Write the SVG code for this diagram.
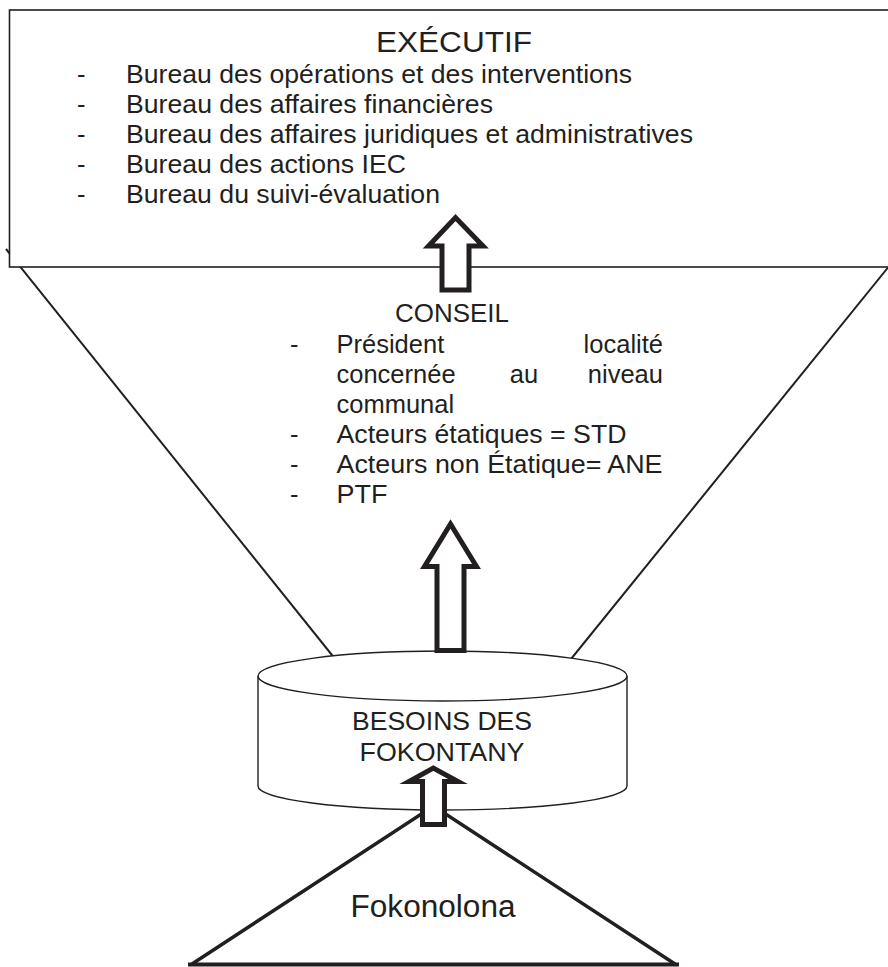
<svg xmlns="http://www.w3.org/2000/svg" width="888" height="967" viewBox="0 0 888 967">
<style>
text{font-family:"Liberation Sans",Arial,sans-serif;fill:#231f20}
.t{font-size:25.5px}
.shape{fill:#fff;stroke:#231f20}
.line{fill:none;stroke:#231f20;stroke-width:2}
.arrow{fill:#fff;stroke:#231f20;stroke-width:5;stroke-linejoin:miter;stroke-miterlimit:10}
</style>
<rect width="888" height="967" fill="#fff"/>
<g id="conseil">
<path class="line" d="M6,249 L352,680"/>
<path class="line" d="M890,265 L554,680"/>
<text class="t" x="452" y="322" text-anchor="middle" textLength="114" lengthAdjust="spacingAndGlyphs">CONSEIL</text>
<text class="t" x="290" y="353">-</text>
<text class="t" x="336.5" y="353">Président</text>
<text class="t" x="663" y="353" text-anchor="end">localité</text>
<text class="t" x="336.5" y="383">concernée</text>
<text class="t" x="524" y="383" text-anchor="middle">au</text>
<text class="t" x="663" y="383" text-anchor="end">niveau</text>
<text class="t" x="336.5" y="413">communal</text>
<text class="t" x="290" y="443">-</text>
<text class="t" x="336.5" y="443" textLength="290" lengthAdjust="spacingAndGlyphs">Acteurs étatiques = STD</text>
<text class="t" x="290" y="473">-</text>
<text class="t" x="336.5" y="473" textLength="326" lengthAdjust="spacingAndGlyphs">Acteurs non Étatique= ANE</text>
<text class="t" x="290" y="503">-</text>
<text class="t" x="336.5" y="503" textLength="51" lengthAdjust="spacingAndGlyphs">PTF</text>
</g>
<g id="executif">
<rect class="shape" x="9.5" y="10" width="885" height="257" stroke-width="1.6"/>
<text x="454" y="52" font-size="30" text-anchor="middle" textLength="156" lengthAdjust="spacingAndGlyphs">EXÉCUTIF</text>
<text class="t" x="77" y="83">-</text>
<text class="t" x="126" y="83" textLength="506" lengthAdjust="spacingAndGlyphs">Bureau des opérations et des interventions</text>
<text class="t" x="77" y="113">-</text>
<text class="t" x="126" y="113" textLength="367" lengthAdjust="spacingAndGlyphs">Bureau des affaires financières</text>
<text class="t" x="77" y="143">-</text>
<text class="t" x="126" y="143" textLength="567" lengthAdjust="spacingAndGlyphs">Bureau des affaires juridiques et administratives</text>
<text class="t" x="77" y="173">-</text>
<text class="t" x="126" y="173" textLength="280" lengthAdjust="spacingAndGlyphs">Bureau des actions IEC</text>
<text class="t" x="77" y="203">-</text>
<text class="t" x="126" y="203" textLength="314" lengthAdjust="spacingAndGlyphs">Bureau du suivi-évaluation</text>
</g>
<g id="fokonolona">
<path d="M192,964 L433.5,806 L675,964" fill="#fff" stroke="#231f20" stroke-width="3.5" stroke-linejoin="miter"/>
<path d="M188,964.5 L679,964.5" stroke="#231f20" stroke-width="4"/>
<text x="433" y="917" font-size="31" text-anchor="middle" textLength="165" lengthAdjust="spacingAndGlyphs">Fokonolona</text>
</g>
<g id="besoins">
<path class="shape" stroke-width="1.4" d="M258,676 L258,786 A184.5,24 0 0 0 627,786 L627,676 A184.5,25 0 0 0 258,676 Z"/>
<path class="shape" stroke-width="1.4" fill="none" d="M258,676 A184.5,25 0 0 0 627,676"/>
<text class="t" x="442" y="730" text-anchor="middle" textLength="180" lengthAdjust="spacingAndGlyphs">BESOINS DES</text>
<text class="t" x="442" y="761" text-anchor="middle" textLength="165" lengthAdjust="spacingAndGlyphs">FOKONTANY</text>
</g>
<g id="connectors">
<path class="arrow" d="M442,290 L442,246 L428.5,246 L455.5,217.5 L483,246 L469,246 L469,290 Z"/>
<path class="arrow" d="M437,650.5 L437,566.5 L424.5,566.5 L450.5,524 L476.5,566.5 L464,566.5 L464,650.5 Z"/>
<path class="arrow" stroke-width="4.5" d="M422.5,824.5 L422.5,781.5 L409,781.5 L433.3,768 L458,781.5 L444.5,781.5 L444.5,824.5 Z"/>
</g>
</svg>
